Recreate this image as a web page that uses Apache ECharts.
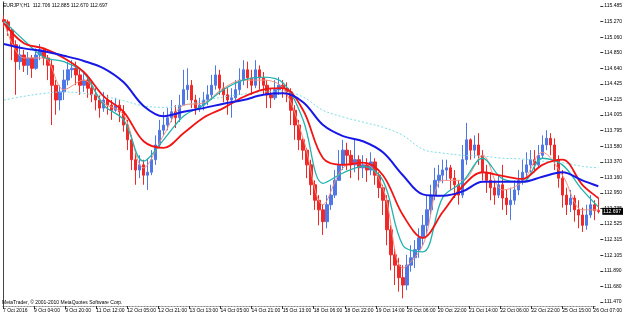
<!DOCTYPE html>
<html>
<head>
<meta charset="utf-8">
<script src="https://cdn.jsdelivr.net/npm/echarts@6/dist/echarts.min.js"></script>
<style>
    html, body { margin: 0; padding: 0; background: #fff; }
    #chart { width: 625px; height: 315px; }
</style>
</head>
<body>
<div id="chart"></div>
<script>
    // EURJPY H1 candles (one candle per 4px)
    var closes = [
        115.27, 115.16, 114.96, 114.73, 114.82, 114.68, 114.78, 114.64, 114.82, 114.89,
        114.78, 114.68, 114.41, 114.21, 114.32, 114.48, 114.62, 114.64, 114.55, 114.41,
        114.48, 114.37, 114.28, 114.21, 114.10, 114.21, 114.14, 114.07, 114.14, 114.05,
        113.87, 113.67, 113.40, 113.26, 113.33, 113.19, 113.23, 113.40, 113.60, 113.80,
        113.87, 113.97, 114.05, 113.97, 114.14, 114.35, 114.41, 114.21, 114.10, 114.14,
        114.21, 114.28, 114.41, 114.55, 114.37, 114.28, 114.21, 114.24, 114.35, 114.48,
        114.62, 114.51, 114.41, 114.62, 114.51, 114.41, 114.28, 114.24, 114.35, 114.41,
        114.37, 114.32, 114.07, 113.87, 113.67, 113.53, 113.33, 113.06, 112.85, 112.72,
        112.56, 112.79, 112.92, 113.12, 113.33, 113.53, 113.46, 113.33, 113.40, 113.29,
        113.33, 113.26, 113.37, 113.19, 113.02, 112.85, 112.45, 112.11, 111.97, 111.80,
        111.70, 111.97, 112.07, 112.18, 112.34, 112.51, 112.72, 112.92, 113.12, 113.19,
        113.26, 113.29, 113.15, 113.06, 112.92, 113.40, 113.67, 113.53, 113.60, 113.46,
        113.23, 113.12, 113.02, 112.92, 113.06, 112.88, 112.79, 112.85, 112.99, 113.12,
        113.23, 113.33, 113.40, 113.33, 113.46, 113.60, 113.69, 113.60, 113.40, 113.15,
        112.92, 112.79, 112.88, 112.72, 112.65, 112.51, 112.65, 112.79, 112.71, 112.697
    ];
    var highs = [
        115.36, 115.30, 115.19, 115.02, 114.96, 114.89, 114.86, 114.82, 114.91, 114.97,
        114.91, 114.82, 114.75, 114.48, 114.41, 114.62, 114.73, 114.75, 114.73, 114.62,
        114.59, 114.55, 114.45, 114.37, 114.28, 114.32, 114.28, 114.21, 114.24, 114.21,
        114.14, 113.94, 113.73, 113.53, 113.46, 113.40, 113.42, 113.53, 113.73, 113.94,
        114.05, 114.10, 114.21, 114.14, 114.28, 114.62, 114.64, 114.48, 114.28, 114.24,
        114.32, 114.41, 114.55, 114.68, 114.62, 114.45, 114.37, 114.37, 114.48, 114.64,
        114.75, 114.73, 114.62, 114.75, 114.68, 114.59, 114.48, 114.37, 114.48, 114.52,
        114.48, 114.45, 114.37, 114.14, 113.94, 113.69, 113.56, 113.40, 113.12, 112.92,
        112.79, 112.92, 113.06, 113.26, 113.53, 113.67, 113.63, 113.53, 113.67, 113.46,
        113.46, 113.42, 113.50, 113.42, 113.23, 113.06, 112.92, 112.51, 112.20, 112.07,
        111.97, 112.11, 112.24, 112.31, 112.47, 112.65, 112.92, 113.06, 113.29, 113.33,
        113.40, 113.40, 113.33, 113.26, 113.12, 113.60, 113.90, 113.69, 113.73, 113.76,
        113.53, 113.33, 113.23, 113.12, 113.19, 113.33, 112.99, 113.02, 113.12, 113.26,
        113.40, 113.50, 113.53, 113.53, 113.60, 113.73, 113.80, 113.76, 113.69, 113.46,
        113.26, 113.02, 112.99, 112.92, 112.85, 112.75, 112.79, 112.92, 112.85, 112.885
    ];
    var lows = [
        115.19, 115.08, 114.75, 114.28, 114.62, 114.59, 114.55, 114.51, 114.62, 114.75,
        114.68, 114.48, 113.87, 114.01, 114.07, 114.21, 114.41, 114.51, 114.41, 114.28,
        114.32, 114.24, 114.18, 114.07, 113.97, 114.05, 114.01, 113.94, 114.05, 113.91,
        113.78, 113.53, 113.26, 113.06, 113.15, 113.06, 112.99, 113.19, 113.33, 113.56,
        113.73, 113.80, 113.91, 113.83, 113.91, 114.14, 114.21, 114.10, 114.01, 114.05,
        114.07, 114.14, 114.21, 114.35, 114.28, 114.18, 114.01, 113.97, 114.21, 114.28,
        114.41, 114.37, 114.28, 114.37, 114.35, 114.28, 114.10, 114.10, 114.21, 114.28,
        114.24, 114.18, 113.87, 113.67, 113.53, 113.40, 113.15, 112.92, 112.72, 112.51,
        112.38, 112.47, 112.72, 112.88, 113.12, 113.26, 113.26, 113.15, 113.23, 113.12,
        113.15, 113.10, 113.19, 113.06, 112.88, 112.65, 112.24, 111.90, 111.70, 111.61,
        111.52, 111.63, 111.88, 111.93, 112.07, 112.24, 112.38, 112.65, 112.85, 113.02,
        113.08, 113.12, 112.99, 112.88, 112.79, 112.88, 113.33, 113.40, 113.42, 113.33,
        113.12, 112.95, 112.85, 112.79, 112.88, 112.72, 112.65, 112.58, 112.79, 112.92,
        113.06, 113.15, 113.23, 113.23, 113.29, 113.42, 113.53, 113.46, 113.26, 113.02,
        112.75, 112.65, 112.69, 112.56, 112.47, 112.42, 112.45, 112.61, 112.58, 112.67
    ];
    var firstOpen = 115.30;

    // moving averages, read every 5 candles
    var maIdx = [0, 5, 10, 15, 20, 25, 30, 35, 40, 45, 50, 55, 60, 65, 70, 75, 80, 85, 90, 95,
                 100, 105, 110, 115, 120, 125, 130, 135, 140, 145, 149];
    var maFast = [115.27, 114.78, 114.78, 114.35, 114.48, 114.17, 114.01, 113.29, 113.73, 114.14,
                  114.17, 114.37, 114.48, 114.48, 114.37, 113.69, 112.79, 113.29, 113.36, 113.02,
                  111.93, 112.24, 113.12, 113.12, 113.46, 112.99, 113.10, 113.50, 113.19, 112.72, 112.72];
    var maTeal = [115.28, 115.02, 114.79, 114.73, 114.58, 114.14, 113.94, 113.38, 113.67, 113.99,
                  114.14, 114.35, 114.48, 114.52, 114.44, 113.94, 113.08, 113.22, 113.31, 113.12,
                  112.24, 112.15, 112.89, 113.10, 113.42, 113.14, 113.10, 113.42, 113.33, 112.99, 112.76];
    var maRed = [115.25, 114.98, 114.91, 114.78, 114.59, 114.26, 114.05, 113.65, 113.56, 113.76,
                 113.97, 114.10, 114.25, 114.35, 114.37, 114.07, 113.42, 113.33, 113.36, 113.19,
                 112.65, 112.34, 112.69, 113.04, 113.23, 113.18, 113.14, 113.33, 113.40, 113.06, 112.88];
    var maBlue = [114.97, 114.91, 114.87, 114.81, 114.74, 114.64, 114.45, 114.13, 113.99, 114.05,
                  114.10, 114.16, 114.21, 114.28, 114.30, 114.18, 113.87, 113.72, 113.65, 113.50,
                  113.19, 112.93, 112.91, 112.97, 113.10, 113.10, 113.10, 113.17, 113.23, 113.12, 113.04];
    var maSlow = [114.21, 114.26, 114.30, 114.32, 114.30, 114.26, 114.20, 114.13, 114.11, 114.14,
                  114.20, 114.25, 114.29, 114.32, 114.33, 114.25, 114.07, 113.98, 113.91, 113.84,
                  113.73, 113.54, 113.49, 113.46, 113.45, 113.42, 113.41, 113.38, 113.36, 113.31, 113.29];

    var timeLabels = ['7 Oct 2016', '9 Oct 04:00', '9 Oct 20:00', '11 Oct 12:00', '12 Oct 05:00',
                      '12 Oct 21:00', '13 Oct 13:00', '14 Oct 05:00', '14 Oct 21:00', '15 Oct 13:00',
                      '18 Oct 06:00', '18 Oct 22:00', '19 Oct 14:00', '20 Oct 06:00', '20 Oct 22:00',
                      '21 Oct 14:00', '22 Oct 06:00', '22 Oct 22:00', '25 Oct 15:00', '26 Oct 07:00'];
    // bottom to top
    var priceLabels = ['111.470', '111.680', '111.890', '112.105', '112.315', '112.525', '112.735',
                       '112.950', '113.160', '113.370', '113.580', '113.795', '114.005', '114.215',
                       '114.425', '114.640', '114.850', '115.060', '115.270', '115.485'];
    var lastPrice = 112.697;
    var headerText = 'EURJPY,H1  112.706 112.885 112.670 112.697';

    var categories = [];
    var candles = [];
    for (var i = 0; i < closes.length; i++) {
        var open = i === 0 ? firstOpen : closes[i - 1];   // H1 bar opens at previous close
        categories.push(String(i));
        candles.push([open, closes[i], lows[i], highs[i]]);
    }

    function maData(vals) {
        return maIdx.map(function (idx, k) { return [idx, vals[k]]; });
    }

    var font = 'Liberation Sans, Arial, sans-serif';
    var dotted = {show: true, lineStyle: {color: '#8a8a8a', width: 1, type: [1, 2]}};

    function lineSeries(name, vals, color, width, type, z) {
        return {
            name: name,
            type: 'line',
            xAxisIndex: 2,
            yAxisIndex: 2,
            data: maData(vals),
            smooth: 0.35,
            symbol: 'none',
            z: z,
            lineStyle: {color: color, width: width, type: type || 'solid'}
        };
    }

    var chart = echarts.init(document.getElementById('chart'));
    chart.setOption({
        animation: false,
        backgroundColor: '#ffffff',
        title: [
            {
                text: headerText, left: 3, top: 3, padding: 0,
                textStyle: {fontSize: 5, fontWeight: 'normal', color: '#000', fontFamily: font}
            },
            {
                text: 'MetaTrader, \u00a9 2001-2010 MetaQuotes Software Corp.', left: 2, top: 300, padding: 0,
                textStyle: {fontSize: 5, fontWeight: 'normal', color: '#000', fontFamily: font}
            }
        ],
        grid: [
            {left: 2, right: 19, top: 2, bottom: 9},      // frame
            {left: 2, right: 19, top: 6, bottom: 13}      // data area
        ],
        xAxis: [
            {
                gridIndex: 0, type: 'value', position: 'bottom', min: 0, max: 19.1, interval: 1,
                axisLine: dotted,
                axisTick: {show: true, length: 3, lineStyle: {color: '#333'}},
                splitLine: {show: false},
                axisLabel: {
                    fontSize: 5, color: '#000', fontFamily: font, align: 'left', margin: 2,
                    showMaxLabel: false,
                    formatter: function (v) {
                        return Math.abs(v - Math.round(v)) < 1e-6 && timeLabels[Math.round(v)] ? timeLabels[Math.round(v)] : '';
                    }
                }
            },
            {
                gridIndex: 0, type: 'value', position: 'top', min: 0, max: 1,
                axisLine: dotted, axisTick: {show: false}, axisLabel: {show: false}, splitLine: {show: false}
            },
            {
                gridIndex: 1, type: 'category', data: categories, boundaryGap: true, show: false
            }
        ],
        yAxis: [
            {
                gridIndex: 0, type: 'value', position: 'left', min: 0, max: 1,
                axisLine: dotted, axisTick: {show: false}, axisLabel: {show: false}, splitLine: {show: false}
            },
            {
                gridIndex: 0, type: 'value', position: 'right', min: 0, max: 1,
                axisLine: {show: true, lineStyle: {color: '#444', width: 1}},
                axisTick: {show: false}, axisLabel: {show: false}, splitLine: {show: false}
            },
            {
                gridIndex: 1, type: 'value', min: 111.470, max: 115.485, show: false, scale: true
            },
            {
                gridIndex: 1, type: 'value', position: 'right', min: 0, max: 19, interval: 1,
                axisLine: {show: false},
                axisTick: {show: true, length: 3, lineStyle: {color: '#333'}},
                splitLine: {show: false},
                axisLabel: {
                    fontSize: 5, color: '#000', fontFamily: font, margin: 4,
                    formatter: function (v) { return priceLabels[Math.round(v)] || ''; }
                }
            }
        ],
        series: [
            {
                name: 'EURJPY',
                type: 'candlestick',
                xAxisIndex: 2,
                yAxisIndex: 2,
                data: candles,
                barWidth: 3,
                z: 2,
                itemStyle: {
                    color: '#5077e6', color0: '#f02828',
                    borderColor: '#5077e6', borderColor0: '#f02828', borderWidth: 1
                },
                markLine: {
                    silent: true,
                    symbol: ['none', 'none'],
                    lineStyle: {color: 'rgba(0,0,0,0)', width: 1, type: 'solid'},
                    label: {
                        show: true, position: 'end', distance: 2,
                        formatter: lastPrice.toFixed(3),
                        backgroundColor: '#000', color: '#fff', fontSize: 5, fontFamily: font,
                        padding: [1, 2, 1, 1]
                    },
                    data: [{yAxis: lastPrice}]
                }
            },
            lineSeries('MA slow', maSlow, '#7fdde6', 1, [2, 2], 3),
            lineSeries('MA fast', maFast, '#f39080', 1, 'solid', 4),
            lineSeries('MA teal', maTeal, '#21b3ae', 1.3, 'solid', 5),
            lineSeries('MA red', maRed, '#f21414', 1.8, 'solid', 6),
            lineSeries('MA blue', maBlue, '#1818e6', 2, 'solid', 7)
        ]
    });
</script>
</body>
</html>
